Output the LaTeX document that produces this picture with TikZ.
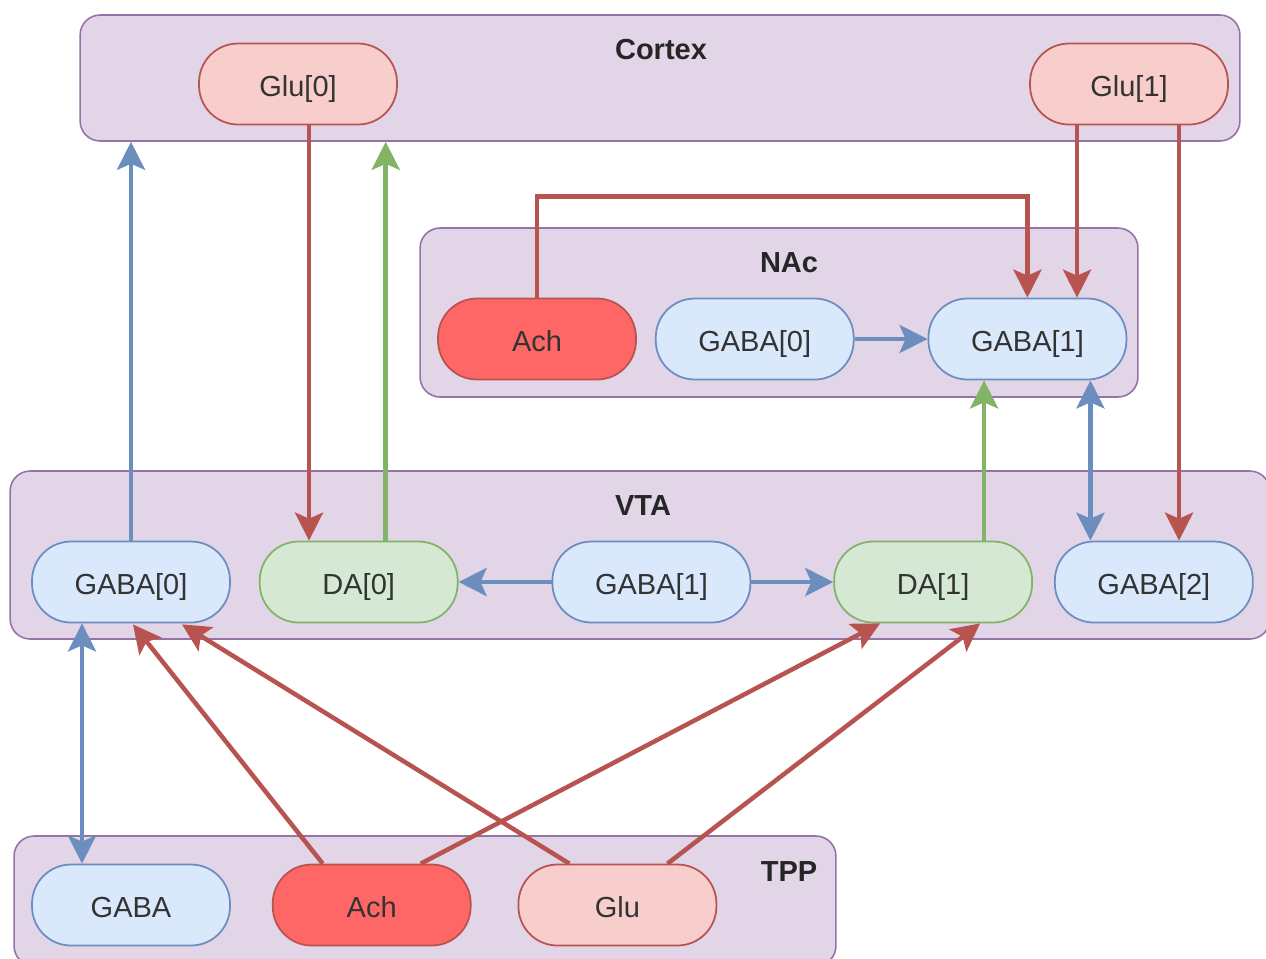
\documentclass[tikz,border=0pt]{standalone}
\usepackage{fontspec}
\setmainfont{Liberation Sans}
\usetikzlibrary{arrows.meta, positioning, calc}
\definecolor{regionfill}{HTML}{E1D5E7}
\definecolor{regiondraw}{HTML}{9673A6}
\definecolor{glufill}{HTML}{F8CECC}
\definecolor{gludraw}{HTML}{B85450}
\definecolor{achfill}{HTML}{FF6666}
\definecolor{gabafill}{HTML}{DAE8FC}
\definecolor{gabadraw}{HTML}{6C8EBF}
\definecolor{dafill}{HTML}{D5E8D4}
\definecolor{dadraw}{HTML}{82B366}
\tikzset{
  region/.style={
    rectangle, draw=regiondraw, fill=regionfill, rounded corners=0.4cm,
    line width=0.9pt
  },
  regiontitle/.style={font=\fontsize{16.5}{20}\selectfont\bfseries, text=black!85},
  cell/.style={
    rectangle, rounded corners=0.78cm,
    minimum width=3.96cm, minimum height=1.62cm,
    text height=0.62cm, text depth=0.13cm,
    font=\fontsize{16.5}{20}\selectfont, text=black!80, line width=1pt
  },
  glucell/.style={cell, draw=gludraw, fill=glufill},
  achcell/.style={cell, draw=gludraw, fill=achfill},
  gabacell/.style={cell, draw=gabadraw, fill=gabafill},
  dacell/.style={cell, draw=dadraw, fill=dafill},
  tip/.tip={Stealth[length=0.56cm, width=0.56cm, inset=0.12cm]},
  link/.style={-tip, line width=0.09cm},
  redlink/.style={link, draw=gludraw},
  bluelink/.style={link, draw=gabadraw},
  greenlink/.style={link, draw=dadraw},
}

\begin{document}
\begin{tikzpicture}[x=0.02cm, y=-0.02cm]
\useasboundingbox (0,0) rectangle (1266,958);
\clip (0,0) rectangle (1266,958);

% regions
\node[region, minimum width=23.2cm, minimum height=2.52cm] (cortex) at (660,78) {};
\node[region, minimum width=14.36cm, minimum height=3.38cm] (nac) at (779,312.5) {};
\node[region, minimum width=25.2cm, minimum height=3.36cm] (vta) at (640,555) {};
\node[region, minimum width=16.44cm, minimum height=2.6cm] (tpp) at (425,901) {};

\node[regiontitle] (cortextitle) at (661,50) {Cortex};
\node[regiontitle] (nactitle) at (789,263) {NAc};
\node[regiontitle] (vtatitle) at (643,506) {VTA};
\node[regiontitle] (tpptitle) at (789,872) {TPP};

% cortex
\node[glucell] (glu0) at (298,84) {Glu[0]};
\node[glucell] (glu1) at (1129,84) {Glu[1]};

% NAc
\node[achcell] (nacach) at (537,339) {Ach};
\node[gabacell, right=0.36cm of nacach] (nacgaba0) {GABA[0]};
\node[gabacell, right=1.46cm of nacgaba0] (nacgaba1) {GABA[1]};

% VTA
\node[gabacell] (vtagaba0) at (131,582) {GABA[0]};
\node[dacell, right=0.56cm of vtagaba0] (da0) {DA[0]};
\node[gabacell, right=1.86cm of da0] (vtagaba1) {GABA[1]};
\node[dacell, right=1.64cm of vtagaba1] (da1) {DA[1]};
\node[gabacell, right=0.42cm of da1] (vtagaba2) {GABA[2]};

% TPP
\node[gabacell] (tppgaba) at (131,905) {GABA};
\node[achcell, right=0.82cm of tppgaba] (tppach) {Ach};
\node[glucell, right=0.92cm of tppach] (tppglu) {Glu};

% projections to cortex
\draw[bluelink] (vtagaba0.north) -- (vtagaba0.north |- cortex.south);
\draw[greenlink] ($(da0.north)+(27,0)$) coordinate (dacx) -- (dacx |- cortex.south);
\draw[redlink] ($(glu0.south)+(11,0)$) coordinate (glux) -- (glux |- da0.north);

% into NAc
\draw[redlink] (nacach.north) -- ++(0,-101) -| (nacgaba1.north);
\draw[redlink] ($(glu1.south)+(-52,0)$) coordinate (glunx) -- (glunx |- nacgaba1.north);
\draw[redlink] ($(glu1.south)+(50,0)$) coordinate (gluvx) -- (gluvx |- vtagaba2.north);
\draw[bluelink] (nacgaba0) -- (nacgaba1);
\draw[greenlink] ($(da1.north)+(51,0)$) coordinate (danx) -- (danx |- nacgaba1.south);
\draw[bluelink, tip-tip] ($(nacgaba1.south)+(63,0)$) coordinate (gabnx) -- (gabnx |- vtagaba2.north);

% inside VTA
\draw[bluelink] (vtagaba1) -- (da0);
\draw[bluelink] (vtagaba1) -- (da1);

% from TPP
\draw[bluelink, tip-tip] ($(vtagaba0.south)+(-49,0)$) coordinate (gabtx) -- (gabtx |- tppgaba.north);
\draw[redlink] ($(tppach.north)+(-49,0)$) -- ($(vtagaba0.south)+(2,1)$);
\draw[redlink] ($(tppglu.north)+(-48,0)$) -- ($(vtagaba0.south)+(51,1)$);
\draw[redlink] ($(tppach.north)+(49,0)$) -- ($(da1.south)+(-53,0)$);
\draw[redlink] ($(tppglu.north)+(50,0)$) -- ($(da1.south)+(47,0)$);
\end{tikzpicture}
\end{document}
